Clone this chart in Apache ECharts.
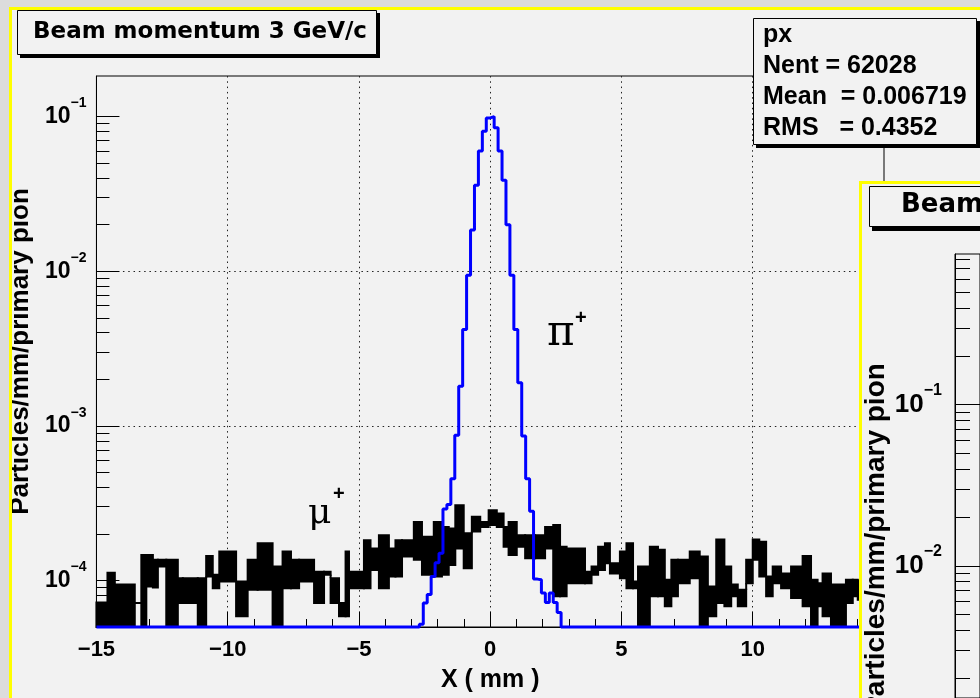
<!DOCTYPE html>
<html>
<head>
<meta charset="utf-8">
<script src="https://cdn.jsdelivr.net/npm/echarts@6/dist/echarts.min.js"></script>
<style>
  html, body { margin: 0; padding: 0; background: #f2f2f2; }
  #chart { width: 980px; height: 698px; }
</style>
</head>
<body>
<div id="chart"></div>
<script>
// axis range (particles/mm/primary pion)
var Y_MIN = 5e-5;
var Y_MAX = 0.183;
var X_MIN = -15;
var X_MAX = 15;
var decades = [1e-4, 1e-3, 1e-2, 1e-1];

// pi+ histogram, bins of 0.15 mm starting at piStart; all other bins are empty
var piStart = -2.70;
var piBinWidth = 0.15;
var piValues = [0.52e-4, 0.715e-4, 0.81e-4, 1.06e-4, 1.3e-4, 1.5e-4, 2.9e-4, 3.1e-4, 4.54e-4,
  8.7e-4, 1.8e-3, 4.2e-3, 9.4e-3, 1.85e-2, 3.6e-2, 5.98e-2, 8.05e-2, 9.8e-2, 1.0e-1,
  8.46e-2, 5.98e-2, 3.88e-2, 2.0e-2, 9.4e-3, 4.2e-3, 1.9e-3, 8.6e-4, 4.54e-4, 2.8e-4,
  1.02e-4, 1.01e-4, 0.83e-4, 0.72e-4, 0.83e-4, 0.72e-4, 0.62e-4];

// mu+ histogram: fine bins fluctuate, so keep the low / high level of each stretch (units of 1e-4, 0 = empty bin)
var muEdges = [-15.00, -14.58, -14.30, -13.54, -13.29, -13.10, -12.85, -12.66, -12.34, -11.90,
  -11.71, -11.14, -10.82, -10.57, -10.32, -9.68, -9.24, -8.86, -8.29, -7.91,
  -7.59, -7.28, -6.71, -6.33, -6.08, -5.76, -5.51, -5.38, -4.81, -4.56,
  -4.24, -3.86, -3.61, -3.36, -2.91, -2.60, -2.15, -1.84, -1.58, -1.33,
  -1.01, -0.70, -0.38, -0.06, 0.25, 0.51, 0.70, 1.01, 1.33, 1.71,
  2.09, 2.40, 2.66, 2.91, 3.61, 3.86, 4.11, 4.37, 4.56, 4.94,
  5.19, 5.44, 5.63, 6.08, 6.39, 6.65, 6.90, 7.15, 7.60, 7.98,
  8.29, 8.61, 8.92, 9.18, 9.43, 9.75, 10.00, 10.25, 10.51, 10.76,
  11.08, 11.46, 11.90, 12.22, 12.47, 12.66, 12.98, 13.55, 13.81, 14.00, 15.00];
var muLo = [0, 0, 0, 0.715, 0, 0.915, 0.9, 1.23, 0, 0.715,
  0.715, 0, 1.06, 0.89, 0.985, 0.587, 0.87, 0.87, 0, 0.89,
  0.89, 0.985, 0.715, 1.09, 0.715, 0.587, 0.587, 0.89, 0.89, 1.17,
  0.89, 1.06, 1.06, 1.43, 1.36, 1.09, 1.06, 1.09, 1.26, 1.61,
  1.20, 2.07, 2.22, 2.28, 2.22, 1.65, 1.46, 1.65, 1.39, 1.39,
  1.61, 0.79, 0.79, 0.96, 0.96, 1.09, 1.17, 1.29, 1.11, 1.035,
  0.89, 0.89, 0, 0.79, 0.79, 0.68, 0.79, 0.96, 1.035, 0,
  0.587, 0.715, 0.68, 0.79, 0.68, 0.96, 1.36, 1.06, 0.79, 0.96,
  0.89, 0.77, 0.68, 0, 0.68, 0.587, 0, 0.715, 0.79, 0.75];
var muHi = [0.72, 1.12, 0.94, 0.715, 1.46, 1.46, 1.36, 1.36, 1.36, 1.035,
  1.035, 1.035, 1.44, 1.09, 1.54, 0.985, 1.36, 1.74, 1.23, 1.54,
  1.36, 1.36, 1.14, 1.14, 1.035, 0.715, 1.54, 1.14, 1.82, 1.61,
  1.96, 1.61, 1.82, 1.82, 2.39, 1.92, 2.39, 2.22, 2.17, 3.06,
  2.02, 2.58, 2.39, 2.84, 2.71, 2.22, 2.39, 1.96, 1.96, 1.96,
  2.22, 2.28, 1.65, 1.61, 1.14, 1.23, 1.65, 1.74, 1.29, 1.54,
  1.74, 0.985, 1.23, 1.65, 1.58, 1.01, 1.36, 1.36, 1.54, 1.43,
  0.915, 1.84, 1.23, 0.94, 0.87, 1.36, 1.84, 1.78, 1.06, 1.23,
  1.11, 1.23, 1.44, 1.01, 0.96, 1.11, 0.94, 1.01, 1.01, 1.0];

// stats box text
var statsLines = ["px", "Nent = 62028", "Mean  = 0.006719", "RMS   = 0.4352"];

// second (overlapping) pad: visible part of its axis
var Y2_MIN = 1.51e-3;
var Y2_MAX = 0.863;
var decades2 = [1e-2, 1e-1];

var FONT = '"Liberation Sans", Arial, sans-serif';

function minorsBetween(lo, hi) {
  var out = [];
  for (var e = -6; e <= 0; e++) {
    for (var m = 2; m <= 9; m++) {
      var v = m * Math.pow(10, e);
      if (v > lo * 1.0001 && v < hi) out.push(v);
    }
  }
  return out;
}

function floorIt(v) { return v > 0 ? v : Y_MIN; }

// blue histogram as a step line
var piData = [[X_MIN, Y_MIN]];
for (var i = 0; i < piValues.length; i++) {
  piData.push([piStart + i * piBinWidth, floorIt(piValues[i])]);
}
piData.push([piStart + piValues.length * piBinWidth, Y_MIN]);
piData.push([X_MAX, Y_MIN]);

// black histogram stretches
var muData = [];
for (var j = 0; j < muLo.length; j++) {
  muData.push([muEdges[j], muEdges[j + 1], floorIt(muLo[j] * 1e-4), floorIt(muHi[j] * 1e-4)]);
}

function powLabel(v) {
  var e = Math.round(Math.log10(v));
  return "{b|10}{s|" + (e < 0 ? "\u2212" : "") + Math.abs(e) + "}";
}

var myChart = echarts.init(document.getElementById("chart"), null, { renderer: "canvas" });

var option = {
  animation: false,
  backgroundColor: "#f2f2f2",
  grid: [
    { left: 95, top: 76, width: 789, height: 555, show: true, borderColor: "#000", borderWidth: 1, backgroundColor: "transparent" },
    { left: 955, top: 254, width: 25, height: 444, show: true, borderColor: "#000", borderWidth: 1, backgroundColor: "transparent", z: 60 }
  ],
  xAxis: [
    {
      type: "value", gridIndex: 0, min: X_MIN, max: X_MAX, interval: 5,
      axisLine: { onZero: false, lineStyle: { color: "#000", width: 1 } },
      axisTick: { inside: true, length: 15, lineStyle: { color: "#000" } },
      minorTick: { show: true, splitNumber: 5, length: 8, lineStyle: { color: "#000" } },
      splitLine: { show: true, showMinLine: false, showMaxLine: false, lineStyle: { color: "#222", type: [1.5, 3.8] } },
      axisLabel: {
        margin: 12, color: "#000", fontSize: 22, fontWeight: "bold", fontFamily: FONT,
        formatter: function (v) { return v < 0 ? "\u2212" + (-v) : String(v); }
      },
      name: "X ( mm )", nameLocation: "middle", nameGap: 41,
      nameTextStyle: { color: "#000", fontSize: 25, fontWeight: "bold", fontFamily: FONT }
    },
    { type: "value", gridIndex: 1, min: 0, max: 1, show: false }
  ],
  yAxis: [
    {
      type: "log", gridIndex: 0, position: "left", logBase: 10, min: Y_MIN, max: Y_MAX,
      axisLine: { show: true, onZero: false, lineStyle: { color: "#000" } },
      axisTick: { inside: true, length: 23, customValues: decades, lineStyle: { color: "#000" } },
      splitLine: { show: true, showMinLine: false, showMaxLine: false, lineStyle: { color: "#222", type: [1.5, 3.8] } },
      axisLabel: {
        customValues: decades, margin: 10, formatter: powLabel,
        rich: {
          b: { fontSize: 23, fontWeight: "bold", fontFamily: FONT, color: "#000", lineHeight: 40, verticalAlign: "middle" },
          s: { fontSize: 14, fontWeight: "bold", fontFamily: FONT, color: "#000", lineHeight: 14, verticalAlign: "top" }
        }
      },
      name: "Particles/mm/primary pion", nameLocation: "middle", nameRotate: 90, nameGap: 62,
      nameTextStyle: { color: "#000", fontSize: 26, fontWeight: "bold", fontFamily: FONT }
    },
    {
      type: "log", gridIndex: 0, position: "left", logBase: 10, min: Y_MIN, max: Y_MAX,
      axisLine: { show: false, onZero: false },
      axisTick: { inside: true, length: 13, customValues: minorsBetween(Y_MIN, Y_MAX), lineStyle: { color: "#000" } },
      axisLabel: { show: false },
      splitLine: { show: false }
    },
    {
      type: "log", gridIndex: 1, position: "left", logBase: 10, min: Y2_MIN, max: Y2_MAX, z: 60,
      axisLine: { show: true, onZero: false, lineStyle: { color: "#000" } },
      axisTick: { inside: true, length: 40, customValues: decades2, lineStyle: { color: "#000" } },
      splitLine: { show: true, showMinLine: false, showMaxLine: false, lineStyle: { color: "#222", type: [1.5, 3.8] } },
      axisLabel: {
        customValues: decades2, margin: 13, formatter: powLabel,
        rich: {
          b: { fontSize: 26, fontWeight: "bold", fontFamily: FONT, color: "#000", lineHeight: 44, verticalAlign: "middle" },
          s: { fontSize: 16, fontWeight: "bold", fontFamily: FONT, color: "#000", lineHeight: 16, verticalAlign: "top" }
        }
      }
    },
    {
      type: "log", gridIndex: 1, position: "left", logBase: 10, min: Y2_MIN, max: Y2_MAX, z: 60,
      axisLine: { show: false, onZero: false },
      axisTick: { inside: true, length: 15, customValues: minorsBetween(Y2_MIN, Y2_MAX), lineStyle: { color: "#000" } },
      axisLabel: { show: false },
      splitLine: { show: false }
    }
  ],
  series: [
    {
      name: "mu+", type: "custom", xAxisIndex: 0, yAxisIndex: 0, z: 2,
      encode: { x: [0, 1], y: [2, 3] },
      data: muData,
      renderItem: function (params, api) {
        var k = params.dataIndex;
        var x0 = api.value(0), x1 = api.value(1), lo = api.value(2), hi = api.value(3);
        var pTop = api.coord([x0, hi]);
        var pBot = api.coord([x1, lo]);
        var kids = [{
          type: "rect",
          shape: { x: pTop[0], y: pTop[1], width: pBot[0] - pTop[0], height: pBot[1] - pTop[1] },
          style: { fill: "#000", stroke: "#000", lineWidth: 2 }
        }];
        if (k > 0) {
          var pLo = muData[k - 1][2], pHi = muData[k - 1][3];
          var a = null, b = null;
          if (pHi < lo) { a = pHi; b = lo; }
          else if (pLo > hi) { a = hi; b = pLo; }
          if (a !== null) {
            var c0 = api.coord([x0, a]), c1 = api.coord([x0, b]);
            kids.push({ type: "line", shape: { x1: c0[0], y1: c0[1], x2: c1[0], y2: c1[1] }, style: { stroke: "#000", lineWidth: 2 } });
          }
        }
        return { type: "group", children: kids };
      }
    },
    {
      name: "pi+", type: "line", xAxisIndex: 0, yAxisIndex: 0, z: 3,
      step: "end", showSymbol: false, clip: false,
      data: piData,
      lineStyle: { color: "#0000ff", width: 3 }
    }
  ],
  graphic: [
    // canvas edges
    { type: "rect", z: 1, shape: { x: 0, y: 0, width: 980, height: 7 }, style: { fill: "#dcdcdc" } },
    { type: "rect", z: 1, shape: { x: 0, y: 0, width: 9, height: 698 }, style: { fill: "#dcdcdc" } },
    { type: "rect", z: 1, shape: { x: 9, y: 7, width: 971, height: 3 }, style: { fill: "#ffff00" } },
    { type: "rect", z: 1, shape: { x: 9, y: 7, width: 3, height: 691 }, style: { fill: "#ffff00" } },
    // title box
    { type: "rect", z: 70, shape: { x: 20, y: 13, width: 360, height: 45 }, style: { fill: "#000" } },
    { type: "rect", z: 71, shape: { x: 17.5, y: 10.5, width: 359, height: 44 }, style: { fill: "#f2f2f2", stroke: "#000", lineWidth: 1 } },
    { type: "text", z: 72, x: 33, y: 32, style: { text: "Beam momentum 3 GeV/c", font: 'bold 23px "DejaVu Sans"', fill: "#000", verticalAlign: "middle" } },
    // stats box
    { type: "rect", z: 70, shape: { x: 756, y: 21, width: 224, height: 127 }, style: { fill: "#000" } },
    { type: "rect", z: 71, shape: { x: 753.5, y: 18.5, width: 223, height: 126 }, style: { fill: "#f2f2f2", stroke: "#000", lineWidth: 1 } },
    { type: "text", z: 72, x: 763, y: 35, style: { text: statsLines[0], font: "bold 25px " + FONT, fill: "#000", verticalAlign: "middle" } },
    { type: "text", z: 72, x: 763, y: 66, style: { text: statsLines[1], font: "bold 25px " + FONT, fill: "#000", verticalAlign: "middle" } },
    { type: "text", z: 72, x: 763, y: 97, style: { text: statsLines[2], font: "bold 25px " + FONT, fill: "#000", verticalAlign: "middle" } },
    { type: "text", z: 72, x: 763, y: 128, style: { text: statsLines[3], font: "bold 25px " + FONT, fill: "#000", verticalAlign: "middle" } },
    // particle labels
    { type: "text", z: 10, x: 547, y: 334, style: { text: "\u03c0", font: '42px "DejaVu Serif"', fill: "#000", verticalAlign: "middle" } },
    { type: "text", z: 10, x: 575, y: 318, style: { text: "+", font: "bold 20px " + FONT, fill: "#000", verticalAlign: "middle" } },
    { type: "text", z: 10, x: 308, y: 514, style: { text: "\u03bc", font: '36px "DejaVu Serif"', fill: "#000", verticalAlign: "middle" } },
    { type: "text", z: 10, x: 333, y: 494, style: { text: "+", font: "bold 20px " + FONT, fill: "#000", verticalAlign: "middle" } },
    // second pad on top
    { type: "rect", z: 50, shape: { x: 859, y: 181, width: 200, height: 600 }, style: { fill: "#f2f2f2" } },
    { type: "rect", z: 51, shape: { x: 859, y: 181, width: 200, height: 3 }, style: { fill: "#ffff00" } },
    { type: "rect", z: 51, shape: { x: 859, y: 181, width: 3, height: 600 }, style: { fill: "#ffff00" } },
    { type: "rect", z: 70, shape: { x: 872, y: 189, width: 200, height: 42 }, style: { fill: "#000" } },
    { type: "rect", z: 71, shape: { x: 869.5, y: 186.5, width: 200, height: 40 }, style: { fill: "#f2f2f2", stroke: "#000", lineWidth: 1 } },
    { type: "text", z: 72, x: 901, y: 205, style: { text: "Beam momentum 3 GeV/c", font: 'bold 26px "DejaVu Sans"', fill: "#000", verticalAlign: "middle" } },
    { type: "text", z: 72, x: 876, y: 539, rotation: Math.PI / 2,
      style: { text: "Particles/mm/primary pion", font: "bold 28px " + FONT, fill: "#000", align: "center", verticalAlign: "middle" } }
  ]
};

myChart.setOption(option);
window.addEventListener("resize", function () {
  myChart.resize();
});
</script>
</body>
</html>
